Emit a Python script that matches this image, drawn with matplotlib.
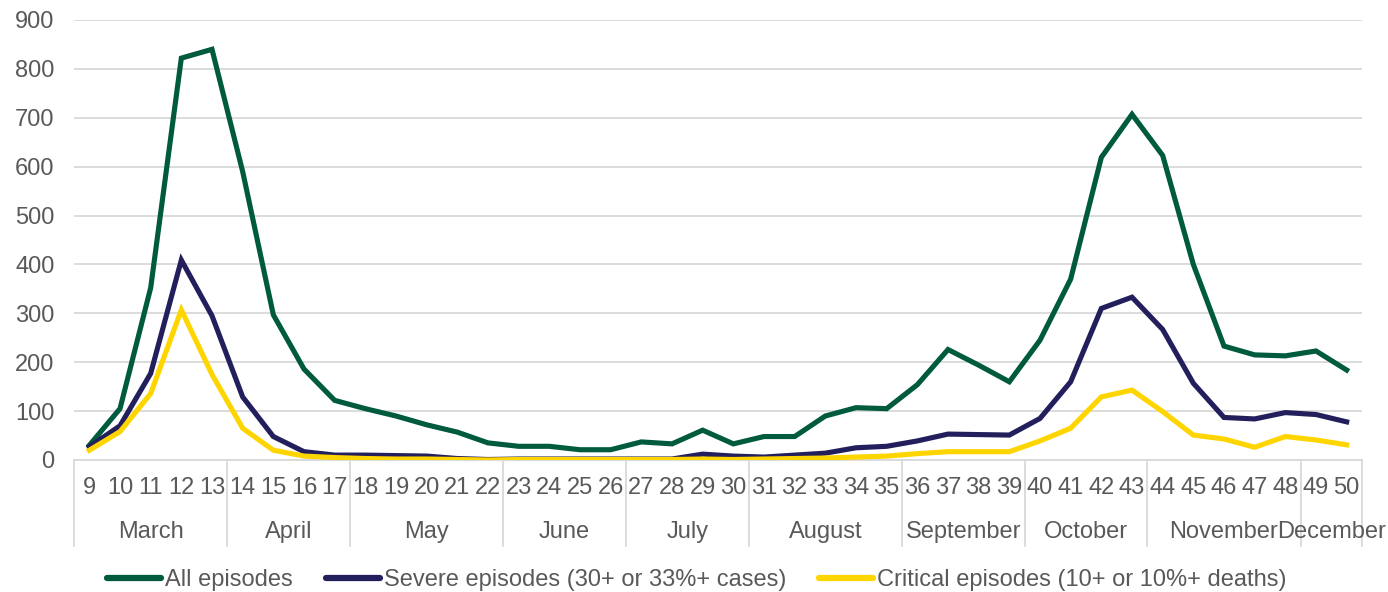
import numpy as np
import matplotlib
matplotlib.use('Agg')
import matplotlib.pyplot as plt
from matplotlib.transforms import blended_transform_factory

plt.rcParams['font.family'] = ['Liberation Sans', 'DejaVu Sans']

# Week numbers and outbreak counts
weeks = list(range(9, 51))

all_episodes = [30, 105, 352, 822, 840, 590, 297, 186, 122, 105,
                90, 72, 57, 35, 28, 28, 21, 21, 37, 33,
                61, 33, 48, 48, 90, 107, 105, 154, 226, 194,
                160, 245, 370, 619, 707, 623, 400, 233, 215, 213,
                223, 184]

severe_episodes = [27, 70, 177, 409, 295, 129, 48, 17, 10, 10,
                   9, 8, 3, 1, 2, 2, 2, 2, 2, 2,
                   12, 8, 6, 10, 14, 25, 28, 39, 53, 52,
                   51, 85, 160, 310, 333, 267, 157, 87, 84, 97,
                   93, 78]

critical_episodes = [20, 58, 136, 307, 175, 65, 20, 8, 5, 3,
                     2, 2, 1, 0, 1, 1, 1, 1, 1, 1,
                     2, 1, 2, 3, 4, 6, 8, 13, 17, 17,
                     17, 39, 65, 129, 143, 99, 51, 43, 26, 48,
                     41, 31]

# Month groups: (name, first week, last week)
months = [('March', 9, 13), ('April', 14, 17), ('May', 18, 22),
          ('June', 23, 26), ('July', 27, 30), ('August', 31, 35),
          ('September', 36, 39), ('October', 40, 43),
          ('November', 44, 48), ('December', 49, 50)]

series_names = ['All episodes',
                'Severe episodes (30+ or 33%+ cases)',
                'Critical episodes (10+ or 10%+ deaths)']
colors = ['#005A3E', '#221F5C', '#FFD500']

text_color = '#595959'
grid_color = '#D9D9D9'
fs = 17

fig = plt.figure(figsize=(13.88, 5.92), dpi=100)
ax = fig.add_axes([74 / 1388, 1 - 460 / 592, (1362 - 74) / 1388, 440 / 592])

x = np.arange(len(weeks))
for vals, name, col in zip([all_episodes, severe_episodes, critical_episodes],
                           series_names, colors):
    ax.plot(x, vals, color=col, linewidth=3.7, label=name,
            solid_joinstyle='miter', zorder=3)

ax.set_xlim(-0.5, len(weeks) - 0.5)
ax.set_ylim(0, 900)
ax.set_yticks(range(0, 901, 100))
ax.yaxis.grid(True, color=grid_color, linewidth=1.3, zorder=0)
ax.set_axisbelow(True)
ax.tick_params(axis='y', length=0, pad=14, labelsize=fs, labelcolor=text_color)
ax.set_xticks([])
for s in ['top', 'right', 'left']:
    ax.spines[s].set_visible(False)
ax.spines['bottom'].set_color(grid_color)
ax.spines['bottom'].set_linewidth(1.3)

trans = blended_transform_factory(ax.transData, ax.transAxes)
ax_h = 440.0

# Week labels
for i, w in enumerate(weeks):
    ax.text(i, -28 / ax_h, str(w), transform=trans, ha='center', va='center',
            fontsize=fs, color=text_color)

# Month labels and separators
sep_bottom = -86 / ax_h
for name, a, b in months:
    i0 = weeks.index(a)
    i1 = weeks.index(b)
    ax.text((i0 + i1) / 2, -72 / ax_h, name, transform=trans, ha='center',
            va='center', fontsize=fs, color=text_color)
    ax.plot([i0 - 0.5, i0 - 0.5], [0, sep_bottom], transform=trans,
            color=grid_color, linewidth=1.3, clip_on=False)
ax.plot([len(weeks) - 0.5] * 2, [0, sep_bottom], transform=trans,
        color=grid_color, linewidth=1.3, clip_on=False)

leg = fig.legend(loc='center', bbox_to_anchor=(0.502, 1 - 580 / 592), ncol=3,
                 frameon=False, fontsize=fs, handlelength=2.3,
                 handletextpad=0.15, columnspacing=1.4)
for t in leg.get_texts():
    t.set_color(text_color)
for h in leg.get_lines():
    h.set_linewidth(4.5)
    h.set_solid_capstyle('round')

fig.savefig('out.png', dpi=100)
